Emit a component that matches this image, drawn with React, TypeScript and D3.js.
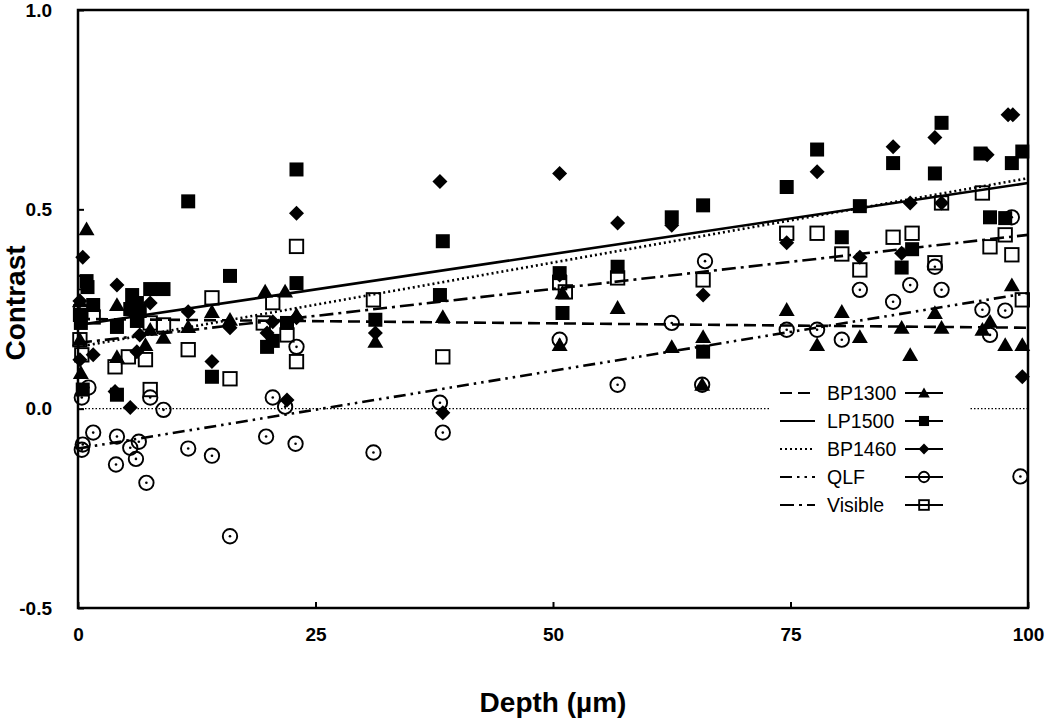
import * as d3 from "d3";
import { useEffect, useRef } from "react";

// depth (µm), contrast
const bp1300: [number, number][] = [
  [0.9, 0.45], [0.2, 0.27], [4.1, 0.26], [14.1, 0.243], [11.6, 0.205], [9, 0.178],
  [7.1, 0.16], [4.1, 0.13], [7.6, 0.198], [16, 0.223], [19.7, 0.294], [21.8, 0.294],
  [0.2, 0.173], [0.3, 0.09], [23, 0.235], [38.4, 0.23], [31.3, 0.168], [51, 0.29],
  [50.7, 0.16], [56.8, 0.253], [62.5, 0.155], [65.8, 0.18], [65.7, 0.06], [74.6, 0.248],
  [77.8, 0.16], [80.4, 0.243], [82.3, 0.18], [86.7, 0.203], [87.6, 0.135], [90.2, 0.24],
  [90.9, 0.203], [95.2, 0.198], [96, 0.218], [98.3, 0.31], [97.6, 0.16], [99.4, 0.16],
];
const lp1500: [number, number][] = [
  [11.6, 0.52], [0.9, 0.32], [1, 0.305], [1.6, 0.26], [0.3, 0.215], [0.2, 0.235],
  [5.7, 0.285], [7.6, 0.3], [9, 0.3], [6.2, 0.265], [6.5, 0.245], [5.5, 0.25],
  [6.2, 0.22], [4.1, 0.205], [16, 0.333], [14.1, 0.08], [4.1, 0.035], [23, 0.315],
  [19.9, 0.155], [20.5, 0.17], [22, 0.215], [0.5, 0.048], [23, 0.6], [38.4, 0.42],
  [38.1, 0.285], [31.3, 0.223], [50.7, 0.34], [51, 0.24], [56.8, 0.356], [62.5, 0.48],
  [65.8, 0.51], [65.8, 0.143], [77.8, 0.65], [74.6, 0.556], [85.8, 0.616], [90.9, 0.717],
  [90.2, 0.59], [82.3, 0.508], [80.4, 0.43], [87.8, 0.4], [86.7, 0.354], [96, 0.48],
  [97.6, 0.478], [98.3, 0.616], [99.4, 0.645], [95, 0.64],
];
const bp1460: [number, number][] = [
  [0.5, 0.38], [23, 0.49], [4.1, 0.31], [0.2, 0.27], [7.6, 0.265], [11.6, 0.243],
  [16, 0.203], [14.1, 0.118], [6.5, 0.185], [6.2, 0.143], [1.6, 0.135], [0.2, 0.123],
  [5.5, 0.003], [20.5, 0.218], [19.9, 0.19], [23, 0.228], [22, 0.022], [3.9, 0.043],
  [38.1, 0.57], [50.7, 0.59], [56.8, 0.466], [62.5, 0.46], [31.3, 0.19], [38.4, -0.01],
  [50.7, 0.335], [65.8, 0.285], [74.6, 0.416], [77.8, 0.594], [82.3, 0.38], [85.8, 0.657],
  [87.6, 0.516], [90.2, 0.68], [86.7, 0.39], [90.9, 0.516], [95.7, 0.637], [97.9, 0.737],
  [98.4, 0.737], [99.4, 0.08],
];
const qlf: [number, number][] = [
  [0.4, -0.103], [0.5, -0.09], [1.6, -0.06], [4.1, -0.07], [4, -0.14], [5.5, -0.098],
  [6.4, -0.083], [6.1, -0.126], [7.2, -0.186], [11.6, -0.1], [14.1, -0.118], [16, -0.32],
  [19.8, -0.07], [22.9, -0.088], [20.5, 0.028], [21.8, 0.005], [9, -0.003], [7.6, 0.028],
  [0.4, 0.028], [1.1, 0.053], [23, 0.155], [38.1, 0.015], [38.4, -0.06], [31.1, -0.11],
  [56.8, 0.06], [62.5, 0.215], [50.7, 0.173], [66, 0.37], [85.8, 0.268], [65.7, 0.06],
  [82.3, 0.298], [87.6, 0.31], [90.9, 0.298], [90.2, 0.356], [74.6, 0.198], [77.8, 0.198],
  [80.4, 0.173], [95.2, 0.248], [97.6, 0.246], [96, 0.185], [98.3, 0.48], [99.2, -0.17],
];
const visible: [number, number][] = [
  [23, 0.407], [14.1, 0.278], [11.6, 0.148], [16, 0.075], [23, 0.118], [20.5, 0.266],
  [7.6, 0.048], [7.1, 0.123], [3.9, 0.105], [5.3, 0.13], [9, 0.21], [7.6, 0.215],
  [22, 0.185], [19.5, 0.215], [0.3, 0.243], [0.2, 0.173], [0.4, 0.135], [0.7, 0.316],
  [1.6, 0.23], [31.1, 0.273], [38.4, 0.13], [50.7, 0.316], [51.3, 0.293], [56.8, 0.328],
  [65.8, 0.323], [74.6, 0.44], [77.8, 0.44], [80.4, 0.388], [82.3, 0.348], [85.8, 0.43],
  [87.8, 0.44], [90.9, 0.516], [90.2, 0.366], [95.2, 0.541], [97.6, 0.436], [96, 0.406],
  [98.3, 0.386], [99.4, 0.273],
];

const seriesNames = ["BP1300", "LP1500", "BP1460", "QLF", "Visible"];
const seriesPoints = [bp1300, lp1500, bp1460, qlf, visible];
// linear fits: contrast at depth 0 and at depth 100
const trendStart = [0.225, 0.21, 0.155, -0.1, 0.165];
const trendEnd = [0.203, 0.566, 0.578, 0.29, 0.436];

const depthTicks = [0, 25, 50, 75, 100];
const contrastTicks = [-0.5, 0, 0.5, 1.0];

const dashes = ["12,6", "", "2,3", "12,5,2.5,5,2.5,5", "14,5,3,5"];
const shapes = ["triangle", "square", "diamond", "circle", "openSquare"];

const font = "Arial, 'Liberation Sans', Helvetica, sans-serif";

function Marker({ shape, cx, cy, s = 1 }: { shape: string; cx: number; cy: number; s?: number }) {
  if (shape === "triangle") {
    const p = d3.symbol(d3.symbolTriangle, 110 * s * s)();
    return <path d={p || ""} transform={`translate(${cx},${cy + 1.5 * s})`} fill="#000" />;
  }
  if (shape === "square") {
    const h = 7 * s;
    return <rect x={cx - h} y={cy - h} width={2 * h} height={2 * h} fill="#000" />;
  }
  if (shape === "diamond") {
    const h = 7.5 * s;
    return <path d={`M${cx},${cy - h}L${cx + h},${cy}L${cx},${cy + h}L${cx - h},${cy}Z`} fill="#000" />;
  }
  if (shape === "circle") {
    return (
      <g>
        <circle cx={cx} cy={cy} r={7.2 * s} fill="none" stroke="#000" strokeWidth={1.9} />
        {s === 1 && <circle cx={cx} cy={cy} r={1.3} fill="#000" />}
      </g>
    );
  }
  const h = 6.7 * s;
  return <rect x={cx - h} y={cy - h} width={2 * h} height={2 * h} fill="none" stroke="#000" strokeWidth={1.9} />;
}

export default function App() {
  const width = 1050;
  const height = 726;
  const x = d3.scaleLinear().domain([0, 100]).range([78, 1028]);
  const y = d3.scaleLinear().domain([-0.5, 1]).range([608, 10]);
  const xAxisRef = useRef<SVGGElement>(null);
  const yAxisRef = useRef<SVGGElement>(null);

  useEffect(() => {
    const gx = d3.select(xAxisRef.current);
    gx.selectAll("*").remove();
    gx.call(
      d3.axisBottom(x).tickValues(depthTicks).tickSizeInner(-6).tickSizeOuter(0).tickPadding(20)
        .tickFormat((d) => String(d)),
    );
    const gy = d3.select(yAxisRef.current);
    gy.selectAll("*").remove();
    gy.call(
      d3.axisLeft(y).tickValues(contrastTicks).tickSizeInner(-6).tickSizeOuter(0).tickPadding(26)
        .tickFormat((d) => (d as number).toFixed(1)),
    );
    [gx, gy].forEach((g) => {
      g.select(".domain").remove();
      g.selectAll("line").attr("stroke", "#000").attr("stroke-width", 2);
      g.selectAll("text")
        .attr("font-family", font)
        .attr("font-weight", "bold")
        .attr("font-size", 19)
        .attr("fill", "#000");
    });
  }, []);

  const legendRows = [393, 421, 449, 477, 505];

  return (
    <svg width={width} height={height} style={{ position: "absolute", left: 0, top: 0, background: "#fff" }}>
      {/* zero line */}
      <line x1={x(0)} x2={x(100)} y1={y(0)} y2={y(0)} stroke="#000" strokeWidth={1.3} strokeDasharray="1.5,2" />

      {/* trend lines */}
      {seriesNames.map((n, i) => (
        <line key={n} x1={x(0)} x2={x(100)} y1={y(trendStart[i])} y2={y(trendEnd[i])}
          stroke="#000" strokeWidth={2.6} strokeDasharray={dashes[i] || undefined} />
      ))}

      {/* points */}
      {seriesPoints.map((pts, i) => (
        <g key={seriesNames[i]}>
          {pts.map((p, j) => (
            <Marker key={j} shape={shapes[i]} cx={x(p[0])} cy={y(p[1])} />
          ))}
        </g>
      ))}

      {/* legend */}
      <rect x={770} y={380} width={200} height={140} fill="#fff" />
      {seriesNames.map((n, i) => (
        <g key={n}>
          <line x1={780} x2={815} y1={legendRows[i]} y2={legendRows[i]} stroke="#000" strokeWidth={2}
            strokeDasharray={dashes[i] || undefined} />
          <text x={827} y={legendRows[i]} dy="0.36em" fontFamily={font} fontSize={19.5} fill="#000">{n}</text>
          <line x1={905} x2={943} y1={legendRows[i]} y2={legendRows[i]} stroke="#000" strokeWidth={2} />
          <Marker shape={shapes[i]} cx={924} cy={legendRows[i]} s={0.72} />
        </g>
      ))}

      {/* frame */}
      <rect x={78} y={10} width={950} height={598} fill="none" stroke="#000" strokeWidth={2.5} />
      <g ref={xAxisRef} transform={`translate(0,${608})`} />
      <g ref={yAxisRef} transform={`translate(${78},0)`} />

      <text x={553} y={712} textAnchor="middle" fontFamily={font} fontWeight="bold" fontSize={28} fill="#000">
        Depth (µm)
      </text>
      <text transform={`translate(25,303) rotate(-90)`} textAnchor="middle" fontFamily={font} fontWeight="bold"
        fontSize={28} fill="#000">
        Contrast
      </text>
    </svg>
  );
}
